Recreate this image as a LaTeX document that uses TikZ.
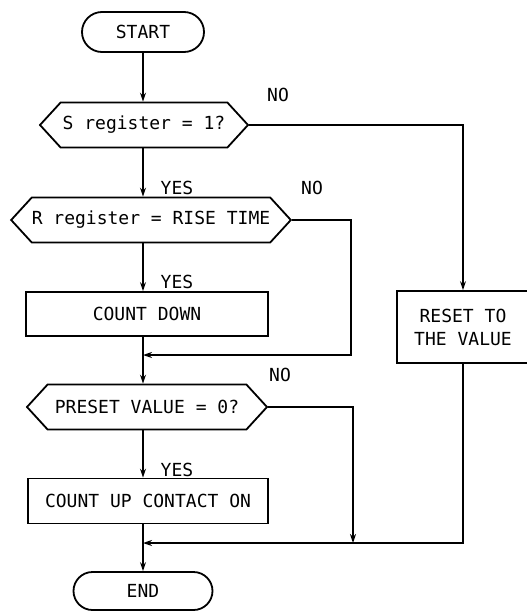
\documentclass[tikz,border=0pt]{standalone}
\usepackage{fontspec}
\setmonofont{DejaVu Sans Mono}
\usetikzlibrary{shapes.misc,shapes.symbols,arrows.meta}

\begin{document}
\begin{tikzpicture}[
  x=1pt, y=-1pt,
  font=\ttfamily\fontsize{18}{23}\selectfont,
  line width=1.8pt,
  >={Stealth[length=9pt,width=6pt]},
  term/.style={rounded rectangle, draw, minimum height=40pt, inner sep=0pt},
  test/.style={signal, signal to=west and east, signal pointer angle=95, draw, minimum height=45pt, inner sep=0pt},
  proc/.style={rectangle, draw, minimum height=44pt, inner sep=0pt},
  lbl/.style={inner sep=0pt}
]
  \useasboundingbox (0,0) rectangle (527,611);

  % Main column
  \node[term, minimum width=122pt] (start) at (143,32) {START};
  \node[test, minimum width=208pt] (sreg) at (144,125) {S register = 1?};
  \node[test, minimum width=278pt] (rreg) at (151,220) {R register = RISE TIME};
  \node[proc, minimum width=242pt] (cdown) at (147,314) {COUNT DOWN};
  \node[test, minimum width=240pt] (preset) at (147,407) {PRESET VALUE = 0?};
  \node[proc, minimum width=240pt, minimum height=45pt] (cup) at (148,501) {COUNT UP CONTACT ON};
  \node[term, minimum width=139pt, minimum height=38pt] (stop) at (143,591) {END};

  % Right branch
  \node[proc, minimum width=132pt, minimum height=72pt, align=center] (reset) at (463,327) {RESET TO\\THE VALUE};

  % Merge points
  \coordinate (m1) at (143,355);
  \coordinate (m2) at (143,543);
  \coordinate (r1) at (351,355);
  \coordinate (r2) at (353,543);

  % YES path
  \draw[->] (start.south) -- (m1 |- sreg.north);
  \draw[->] (m1 |- sreg.south) -- (m1 |- rreg.north);
  \draw[->] (m1 |- rreg.south) -- (m1 |- cdown.north);
  \draw (m1 |- cdown.south) -- (m1);
  \draw[->] (m1) -- (m1 |- preset.north);
  \draw[->] (m1 |- preset.south) -- (m1 |- cup.north);
  \draw (m1 |- cup.south) -- (m2);
  \draw[->] (m2) -- (stop.north);

  % NO paths
  \draw[->] (sreg.east) -| (reset.north);
  \draw[->] (rreg.east) -| (r1) -- (m1);
  \draw[->] (preset.east) -| (r2);
  \draw[->] (reset.south) |- (m2);

  % Labels
  \node[lbl] (no1) at (278,95) {NO};
  \node[lbl] (yes1) at (177,188) {YES};
  \node[lbl] (no2) at (312,188) {NO};
  \node[lbl] (yes2) at (177,282) {YES};
  \node[lbl] (no3) at (280,375) {NO};
  \node[lbl] (yes3) at (177,470) {YES};
\end{tikzpicture}
\end{document}
